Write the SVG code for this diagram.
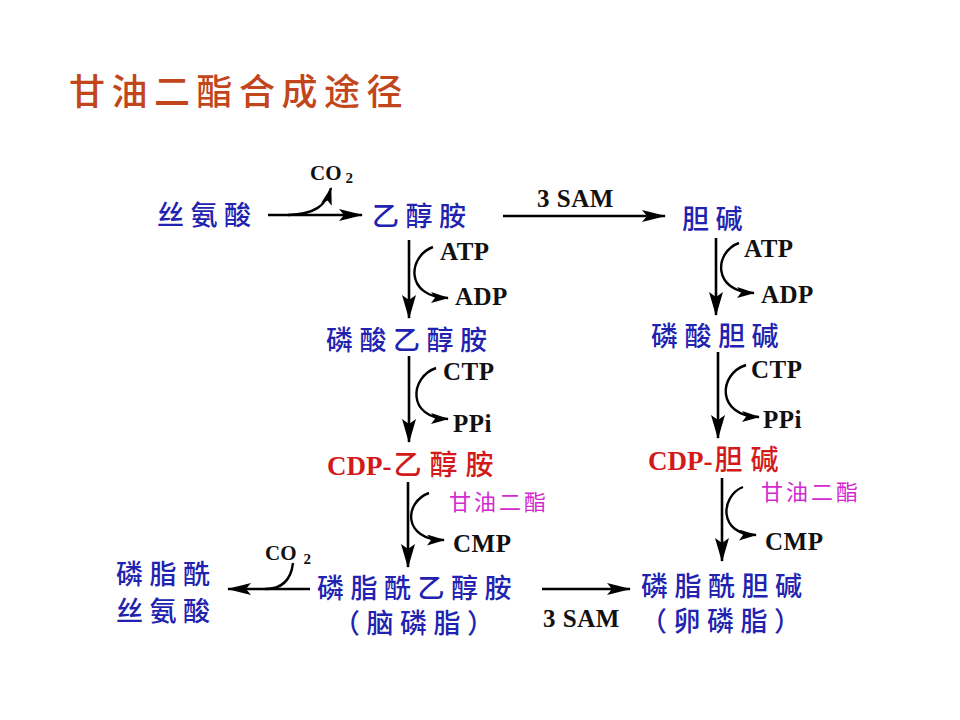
<svg xmlns="http://www.w3.org/2000/svg" width="960" height="720" viewBox="0 0 960 720">
<defs>
<style>
.title{font-family:"Noto Sans CJK SC","Noto Sans",sans-serif;font-size:36px;font-weight:500;letter-spacing:6.5px;fill:#c2461c;}
.node{font-family:"Noto Sans CJK SC","Noto Sans",sans-serif;font-size:27px;font-weight:500;letter-spacing:6.5px;fill:#2222b0;}
.red{fill:#d21a1a;font-size:28px;letter-spacing:8px;}
.cdp{font-family:"Liberation Serif","Noto Sans CJK SC",serif;font-weight:bold;font-size:27px;letter-spacing:0;}
.lab{font-family:"Liberation Serif",serif;font-weight:bold;font-size:25px;letter-spacing:0.5px;fill:#111;}
.co{font-size:21px;letter-spacing:0;}
.sub{font-size:15px;}
.mag{font-family:"Noto Sans CJK SC",sans-serif;font-size:22px;letter-spacing:3px;fill:#d22ad0;}
.ln{fill:none;stroke:#000;stroke-width:2.6;}
.cv{fill:none;stroke:#000;stroke-width:2.4;}
</style>
<marker id="big" markerUnits="userSpaceOnUse" markerWidth="24" markerHeight="14" refX="23" refY="7" orient="auto">
<path d="M0,0 L24,7 L0,14 L5,7 z" fill="#000"/>
</marker>
<marker id="mid" markerUnits="userSpaceOnUse" markerWidth="24" markerHeight="12" refX="23" refY="6" orient="auto">
<path d="M0,0 L24,6 L0,12 L5,6 z" fill="#000"/>
</marker>
<marker id="sm" markerUnits="userSpaceOnUse" markerWidth="18" markerHeight="11" refX="17" refY="5.5" orient="auto">
<path d="M0,0 L18,5.5 L0,11 L4,5.5 z" fill="#000"/>
</marker>
</defs>
<rect width="960" height="720" fill="#fff"/>
<text class="title" x="69" y="105">甘油二酯合成途径</text>

<g id="connectors">
<line class="ln" x1="268" y1="215" x2="362" y2="215" marker-end="url(#mid)"/>
<path class="cv" d="M288,215 C315,214 326,206 331,188" marker-end="url(#sm)"/>
<line class="ln" x1="503" y1="216" x2="665" y2="216" marker-end="url(#mid)"/>
<line class="ln" x1="409" y1="240" x2="409" y2="318" marker-end="url(#big)"/>
<path class="cv" d="M433,247 C408,256 404,297 448,298" marker-end="url(#sm)"/>
<line class="ln" x1="409" y1="356" x2="409" y2="442" marker-end="url(#big)"/>
<path class="cv" d="M436,368 C410,377 406,418 448,419" marker-end="url(#sm)"/>
<line class="ln" x1="408" y1="482" x2="408" y2="567" marker-end="url(#big)"/>
<path class="cv" d="M429,493 C404,502 402,540 444,540" marker-end="url(#sm)"/>
<line class="ln" x1="716" y1="238" x2="716" y2="315" marker-end="url(#big)"/>
<path class="cv" d="M739,243 C714,252 712,292 754,293" marker-end="url(#sm)"/>
<line class="ln" x1="718" y1="352" x2="718" y2="438" marker-end="url(#big)"/>
<path class="cv" d="M746,365 C718,374 716,416 759,417" marker-end="url(#sm)"/>
<line class="ln" x1="722" y1="478" x2="722" y2="561" marker-end="url(#big)"/>
<path class="cv" d="M743,487 C720,496 718,535 756,535" marker-end="url(#sm)"/>
<line class="ln" x1="542" y1="589" x2="630" y2="589" marker-end="url(#mid)"/>
<line class="ln" x1="310" y1="589" x2="228" y2="589" marker-end="url(#mid)"/>
<path class="cv" d="M293,563 C291,580 282,589 265,589"/>
</g>

<g id="labels">
<text class="lab co" x="310" y="180">CO<tspan class="sub" dx="4" dy="3">2</tspan></text>
<text class="lab" x="537" y="207">3 SAM</text>
<text class="lab" x="440" y="260">ATP</text>
<text class="lab" x="455" y="305">ADP</text>
<text class="lab" x="744" y="257">ATP</text>
<text class="lab" x="761" y="303">ADP</text>
<text class="lab" x="443" y="380">CTP</text>
<text class="lab" x="453" y="432">PPi</text>
<text class="lab" x="751" y="378">CTP</text>
<text class="lab" x="763" y="428">PPi</text>
<text class="mag" x="449" y="510">甘油二酯</text>
<text class="lab" x="453" y="552">CMP</text>
<text class="mag" x="761" y="500">甘油二酯</text>
<text class="lab" x="765" y="550">CMP</text>
<text class="lab co" x="265" y="560">CO<tspan class="sub" dx="7" dy="4">2</tspan></text>
<text class="lab" x="543" y="627">3 SAM</text>
</g>

<g id="serine"><text class="node" x="157" y="225">丝氨酸</text></g>
<g id="ethanolamine"><text class="node" x="372" y="226">乙醇胺</text></g>
<g id="choline"><text class="node" x="682" y="229">胆碱</text></g>
<g id="phosphoethanolamine"><text class="node" x="326" y="350">磷酸乙醇胺</text></g>
<g id="phosphocholine"><text class="node" x="651" y="346">磷酸胆碱</text></g>
<g id="cdp-ethanolamine"><text class="node red" x="327" y="475"><tspan class="cdp">CDP-</tspan><tspan dx="2">乙醇胺</tspan></text></g>
<g id="cdp-choline"><text class="node red" x="648" y="470"><tspan class="cdp">CDP-</tspan><tspan dx="2">胆碱</tspan></text></g>
<g id="pe"><text class="node" x="317" y="598">磷脂酰乙醇胺</text><text class="node" x="333" y="633">（脑磷脂）</text></g>
<g id="pc"><text class="node" x="641" y="596">磷脂酰胆碱</text><text class="node" x="640" y="631">（卵磷脂）</text></g>
<g id="ps"><text class="node" x="116" y="584">磷脂酰</text><text class="node" x="116" y="621">丝氨酸</text></g>
</svg>
